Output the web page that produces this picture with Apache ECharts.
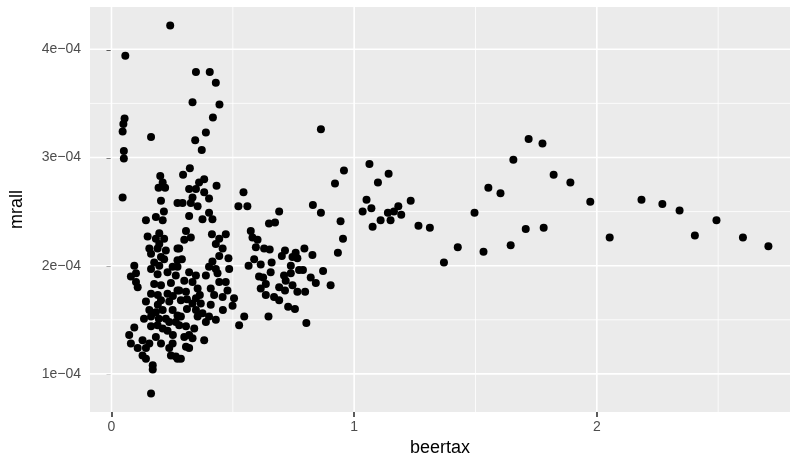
<!DOCTYPE html>
<html>
<head>
<meta charset="utf-8">
<script src="https://cdn.jsdelivr.net/npm/echarts@6/dist/echarts.min.js"></script>
<style>
  html, body { margin: 0; padding: 0; background: #ffffff; }
  #chart { width: 796px; height: 462px; }
</style>
</head>
<body>
<div id="chart"></div>
<script>
// beertax vs mrall
const beertax = [
  0.242, 0.057, 0.348, 0.405, 0.430, 0.334, 0.445, 0.418, 0.054, 0.049, 0.046, 0.163, 0.389, 0.345, 0.372, 0.051, 0.051,
  0.201, 0.211, 0.194, 0.221, 0.046, 0.204, 0.272, 0.216, 0.142, 0.183, 0.211, 0.197, 0.149, 0.183, 0.217, 0.197,
  0.156, 0.190, 0.224, 0.272, 0.163, 0.204, 0.217, 0.176, 0.272, 0.094, 0.197, 0.101, 0.190, 0.231, 0.252,
  0.080, 0.101, 0.108, 0.265, 0.176, 0.204, 0.272, 0.163, 0.231, 0.142, 0.204, 0.238, 0.156, 0.211, 0.252, 0.163,
  0.224, 0.272, 0.231, 0.265, 0.163, 0.190, 0.094, 0.073, 0.080, 0.128, 0.142, 0.108, 0.183, 0.156, 0.128, 0.142,
  0.170, 0.170, 0.252, 0.238, 0.245, 0.272, 0.163,
  0.323, 0.295, 0.382, 0.361, 0.320, 0.348, 0.433, 0.382, 0.402, 0.334, 0.293, 0.327, 0.355, 0.320, 0.402, 0.375,
  0.416, 0.544, 0.523, 0.560, 0.307, 0.327, 0.300, 0.414, 0.471, 0.444, 0.430, 0.458, 0.279, 0.444, 0.482, 0.290,
  0.574, 0.581, 0.588, 0.565, 0.416, 0.402, 0.430, 0.320, 0.348, 0.389, 0.437, 0.485, 0.272,
  0.300, 0.334, 0.355, 0.279, 0.307, 0.444, 0.471, 0.478, 0.423, 0.458, 0.505, 0.499, 0.286, 0.334, 0.368, 0.348,
  0.375, 0.355, 0.402, 0.430, 0.286, 0.389, 0.279, 0.307, 0.341, 0.320, 0.300, 0.334, 0.382, 0.547, 0.526, 0.320,
  0.265, 0.286,
  0.921, 0.830, 0.863, 0.691, 0.944, 0.649, 0.674, 0.602, 0.954, 0.595, 0.629, 0.652, 0.715, 0.795, 0.933, 0.828,
  0.759, 0.702, 0.746, 0.766, 0.615, 0.660, 0.739, 0.773, 0.789, 0.656, 0.872, 0.739, 0.608, 0.625, 0.711, 0.821,
  0.842, 0.718, 0.746, 0.903, 0.636, 0.615, 0.691, 0.715, 0.766, 0.798, 0.636, 0.670, 0.691, 0.728, 0.756, 0.647,
  0.803,
  0.863, 0.958, 1.063, 1.142, 1.098, 1.051, 1.233, 1.071, 1.035, 1.182, 1.139, 1.164, 1.194, 1.150, 1.109, 1.076,
  1.265, 1.312,
  1.719, 1.776, 1.656, 1.822, 1.891, 1.553, 1.603, 1.973, 2.184, 2.270, 2.341, 1.496, 2.493, 1.707, 1.781, 1.427,
  1.533, 1.645, 2.053, 2.404, 2.602, 2.707, 1.370,
  0.183, 0.238, 0.211, 0.253, 0.191, 0.245, 0.311, 0.409, 0.459, 0.364, 0.163, 0.204, 0.307,
  0.191, 0.253, 0.134, 0.195, 0.311, 0.409, 0.348
];
const mrall = [
  4.22e-4, 3.94e-4, 3.79e-4, 3.79e-4, 3.69e-4, 3.51e-4, 3.49e-4, 3.37e-4, 3.36e-4, 3.31e-4, 3.24e-4, 3.19e-4, 3.23e-4, 3.16e-4, 3.07e-4, 3.06e-4, 2.99e-4,
  2.83e-4, 2.77e-4, 2.72e-4, 2.72e-4, 2.63e-4, 2.60e-4, 2.58e-4, 2.50e-4, 2.42e-4, 2.45e-4, 2.42e-4, 2.30e-4, 2.27e-4, 2.25e-4, 2.25e-4, 2.20e-4,
  2.16e-4, 2.16e-4, 2.14e-4, 2.16e-4, 2.11e-4, 2.08e-4, 2.06e-4, 2.03e-4, 2.05e-4, 2.00e-4, 2.00e-4, 1.93e-4, 1.92e-4, 1.94e-4, 1.99e-4,
  1.90e-4, 1.85e-4, 1.80e-4, 1.91e-4, 1.83e-4, 1.82e-4, 1.77e-4, 1.74e-4, 1.74e-4, 1.67e-4, 1.68e-4, 1.67e-4, 1.59e-4, 1.59e-4, 1.59e-4, 1.53e-4,
  1.51e-4, 1.54e-4, 1.40e-4, 1.48e-4, 1.44e-4, 1.45e-4, 1.43e-4, 1.36e-4, 1.28e-4, 1.31e-4, 1.24e-4, 1.24e-4, 1.34e-4, 1.28e-4, 1.17e-4, 1.14e-4,
  1.08e-4, 1.04e-4, 1.28e-4, 1.24e-4, 1.17e-4, 1.14e-4, 0.82e-4,
  2.90e-4, 2.84e-4, 2.80e-4, 2.77e-4, 2.71e-4, 2.71e-4, 2.74e-4, 2.68e-4, 2.62e-4, 2.63e-4, 2.58e-4, 2.58e-4, 2.55e-4, 2.46e-4, 2.49e-4, 2.43e-4,
  2.43e-4, 2.68e-4, 2.55e-4, 2.55e-4, 2.32e-4, 2.26e-4, 2.24e-4, 2.29e-4, 2.29e-4, 2.25e-4, 2.20e-4, 2.16e-4, 2.16e-4, 2.09e-4, 2.07e-4, 2.06e-4,
  2.32e-4, 2.26e-4, 2.06e-4, 2.00e-4, 2.04e-4, 1.99e-4, 1.97e-4, 1.94e-4, 1.91e-4, 1.91e-4, 1.93e-4, 1.97e-4, 1.99e-4,
  1.86e-4, 1.85e-4, 1.79e-4, 1.77e-4, 1.76e-4, 1.85e-4, 1.85e-4, 1.77e-4, 1.73e-4, 1.71e-4, 1.70e-4, 1.63e-4, 1.68e-4, 1.65e-4, 1.65e-4, 1.59e-4,
  1.56e-4, 1.53e-4, 1.53e-4, 1.50e-4, 1.53e-4, 1.48e-4, 1.45e-4, 1.44e-4, 1.42e-4, 1.36e-4, 1.34e-4, 1.33e-4, 1.31e-4, 1.53e-4, 1.45e-4, 1.24e-4,
  1.16e-4, 1.14e-4,
  2.76e-4, 2.56e-4, 2.49e-4, 2.50e-4, 2.41e-4, 2.39e-4, 2.40e-4, 2.24e-4, 2.25e-4, 2.17e-4, 2.16e-4, 2.15e-4, 2.14e-4, 2.16e-4, 2.12e-4, 2.10e-4,
  2.12e-4, 2.09e-4, 2.08e-4, 2.07e-4, 2.01e-4, 2.03e-4, 2.00e-4, 1.96e-4, 1.96e-4, 1.94e-4, 1.95e-4, 1.93e-4, 1.90e-4, 1.89e-4, 1.91e-4, 1.89e-4,
  1.84e-4, 1.86e-4, 1.82e-4, 1.82e-4, 1.83e-4, 1.79e-4, 1.80e-4, 1.77e-4, 1.76e-4, 1.76e-4, 1.73e-4, 1.71e-4, 1.68e-4, 1.62e-4, 1.60e-4, 1.53e-4,
  1.47e-4,
  3.26e-4, 2.88e-4, 2.94e-4, 2.85e-4, 2.77e-4, 2.61e-4, 2.60e-4, 2.53e-4, 2.50e-4, 2.55e-4, 2.49e-4, 2.50e-4, 2.47e-4, 2.42e-4, 2.42e-4, 2.36e-4,
  2.37e-4, 2.35e-4,
  3.17e-4, 3.13e-4, 2.98e-4, 2.84e-4, 2.77e-4, 2.72e-4, 2.67e-4, 2.59e-4, 2.61e-4, 2.57e-4, 2.51e-4, 2.49e-4, 2.42e-4, 2.34e-4, 2.35e-4, 2.17e-4,
  2.13e-4, 2.19e-4, 2.26e-4, 2.28e-4, 2.26e-4, 2.18e-4, 2.03e-4,
  1.57e-4, 1.48e-4, 1.42e-4, 1.36e-4, 1.73e-4, 1.84e-4, 1.60e-4, 1.64e-4, 1.59e-4, 1.73e-4, 1.97e-4, 1.28e-4, 1.25e-4,
  1.64e-4, 1.72e-4, 1.51e-4, 1.51e-4, 1.69e-4, 1.79e-4, 1.70e-4
];

const xTicks = [0, 1, 2];
const xTickLabels = ["0", "1", "2"];
const xMinor = [0.5, 1.5, 2.5];
const yTicks = [1e-4, 2e-4, 3e-4, 4e-4];
const yTickLabels = ["1e\u221204", "2e\u221204", "3e\u221204", "4e\u221204"];
const yMinor = [1.5e-4, 2.5e-4, 3.5e-4];

const xMin = -0.0885;
const xMax = 2.796;
const yMin = 0.647e-4;
const yMax = 4.391e-4;

const points = beertax.map((b, i) => [b, mrall[i]]);

const font = "Liberation Sans, Arial, Helvetica, sans-serif";

function tickText(ticks, labels) {
  return function (v) {
    let best = 0;
    ticks.forEach((t, i) => {
      if (Math.abs(t - v) < Math.abs(ticks[best] - v)) best = i;
    });
    return labels[best];
  };
}

// white panel grid lines, drawn as plain line series under the points
function vLine(v, width) {
  return {
    type: "line", silent: true, z: 1, symbol: "none",
    lineStyle: { color: "#ffffff", width: width },
    data: [[v, yMin], [v, yMax]]
  };
}
function hLine(v, width) {
  return {
    type: "line", silent: true, z: 1, symbol: "none",
    lineStyle: { color: "#ffffff", width: width },
    data: [[xMin, v], [xMax, v]]
  };
}

const gridSeries = [].concat(
  xMinor.map((v) => vLine(v, 0.8)),
  yMinor.map((v) => hLine(v, 0.8)),
  xTicks.map((v) => vLine(v, 1.6)),
  yTicks.map((v) => hLine(v, 1.6))
);

const chart = echarts.init(document.getElementById("chart"), null, { renderer: "canvas" });

chart.setOption({
  animation: false,
  backgroundColor: "#ffffff",
  grid: {
    left: 89,
    right: 6,
    top: 7,
    bottom: 48,
    show: true,
    backgroundColor: "#EBEBEB",
    borderWidth: 0
  },
  xAxis: {
    type: "value",
    min: xMin,
    max: xMax,
    name: "beertax",
    nameLocation: "middle",
    nameGap: 25,
    nameTextStyle: { color: "#000000", fontSize: 18, fontFamily: font },
    axisLine: { show: false },
    axisTick: { show: true, customValues: xTicks, length: 5, lineStyle: { color: "#333333", width: 1.6 } },
    axisLabel: {
      customValues: xTicks,
      formatter: tickText(xTicks, xTickLabels),
      color: "#4D4D4D",
      fontSize: 14,
      fontFamily: font,
      margin: 8
    },
    splitLine: { show: false }
  },
  yAxis: {
    type: "value",
    min: yMin,
    max: yMax,
    name: "mrall",
    nameLocation: "middle",
    nameGap: 64,
    nameTextStyle: { color: "#000000", fontSize: 18, fontFamily: font },
    axisLine: { show: false },
    axisTick: { show: true, customValues: yTicks, length: 5, lineStyle: { color: "#333333", width: 1.6 } },
    axisLabel: {
      customValues: yTicks,
      formatter: tickText(yTicks, yTickLabels),
      color: "#4D4D4D",
      fontSize: 14,
      fontFamily: font,
      margin: 9
    },
    splitLine: { show: false }
  },
  series: gridSeries.concat([
    {
      type: "scatter",
      z: 3,
      symbol: "circle",
      symbolSize: 8,
      itemStyle: { color: "#000000", opacity: 1 },
      data: points
    }
  ])
});
</script>
</body>
</html>
